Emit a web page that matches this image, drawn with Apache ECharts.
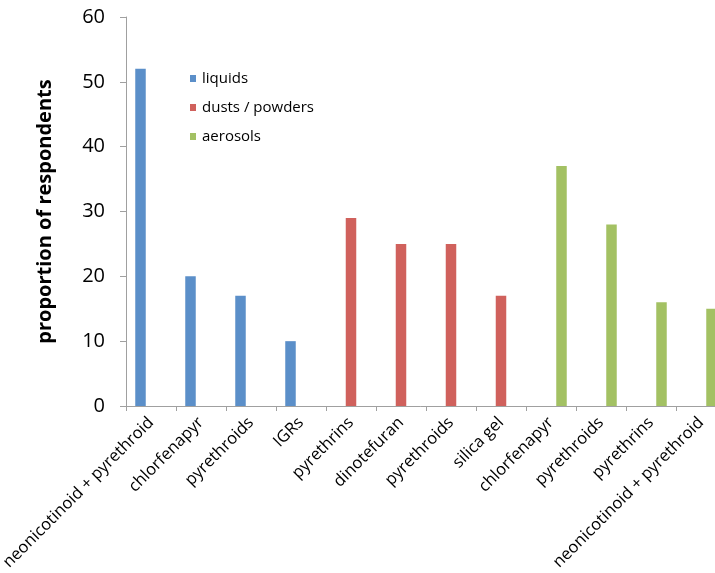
<!DOCTYPE html>
<html>
<head>
<meta charset="utf-8">
<script src="https://cdn.jsdelivr.net/npm/echarts@6/dist/echarts.min.js"></script>
<style>
html,body{margin:0;padding:0;background:#fff;}
#chart{width:715px;height:573px;}
</style>
</head>
<body>
<div id="chart"></div>
<script>
const categories = ["neonicotinoid + pyrethroid","chlorfenapyr","pyrethroids","IGRs","pyrethrins","dinotefuran","pyrethroids","silica gel","chlorfenapyr","pyrethroids","pyrethrins","neonicotinoid + pyrethroid"];
const liquids = [52,20,17,10,null,null,null,null,null,null,null,null];
const dusts = [null,null,null,null,29,25,25,17,null,null,null,null];
const aerosols = [null,null,null,null,null,null,null,null,37,28,16,15];
const seriesNames = ["liquids","dusts / powders","aerosols"];
const colors = ["#5B8FC9","#D0615C","#A3C163"];
const FONT = "Open Sans";

const chart = echarts.init(document.getElementById('chart'));
const mk = (name, data, color) => ({
  name, type:'bar', data, barWidth:10.5, barGap:'0%',
  itemStyle:{color}
});
chart.setOption({
  animation:false,
  textStyle:{fontFamily:FONT},
  grid:{left:126, top:17, width:600, height:389, containLabel:false, outerBoundsMode:'none'},
  legend:{
    orient:'vertical', left:185, top:66, itemWidth:6, itemHeight:7, itemGap:14,
    icon:'rect',
    textStyle:{fontFamily:FONT, fontSize:15, color:'#000', padding:[0,0,0,1]},
    data:seriesNames
  },
  xAxis:{
    type:'category', data:categories,
    axisLine:{lineStyle:{color:'#A0A0A0'}},
    axisTick:{show:true, length:5, lineStyle:{color:'#A0A0A0'}, alignWithLabel:false},
    axisLabel:{interval:0, rotate:45, fontFamily:FONT, fontSize:16.5, color:'#000', margin:14}
  },
  yAxis:{
    type:'value', min:0, max:60, interval:10,
    name:'proportion of respondents', nameLocation:'middle', nameGap:71,
    nameTextStyle:{fontFamily:FONT, fontSize:20, fontWeight:'bold', color:'#000'},
    splitLine:{show:false},
    axisLine:{show:true, lineStyle:{color:'#A0A0A0'}},
    axisTick:{show:true, length:6, lineStyle:{color:'#A0A0A0'}},
    axisLabel:{fontFamily:FONT, fontSize:20, color:'#000', margin:21}
  },
  series:[mk(seriesNames[0], liquids, colors[0]), mk(seriesNames[1], dusts, colors[1]), mk(seriesNames[2], aerosols, colors[2])]
});
</script>
</body>
</html>
